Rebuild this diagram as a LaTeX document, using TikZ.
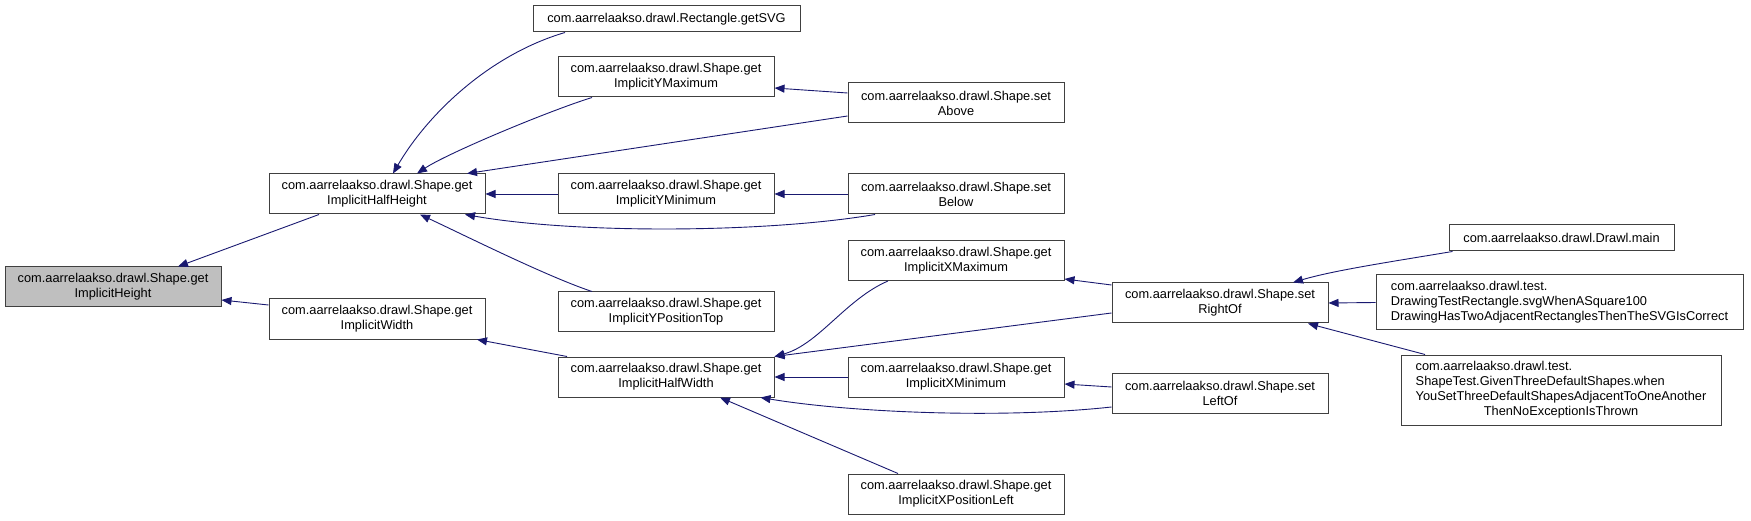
\documentclass[tikz,border=0pt]{standalone}
\usepackage{fontspec}
\setmainfont{Liberation Sans}
\usetikzlibrary{arrows.meta}
\definecolor{edgeblue}{HTML}{191970}
\definecolor{nodegray}{HTML}{BFBFBF}
\definecolor{boxline}{HTML}{404040}
\begin{document}
\begin{tikzpicture}[x=1pt,y=-1pt,
  fn/.style={draw=boxline, line width=1pt, inner sep=0pt, align=center, fill=white,
    font=\fontsize{12.8}{15}\selectfont},
  two/.style={fn, minimum width=216pt, minimum height=40pt},
  edge/.style={draw=edgeblue, line width=0.9pt, -{Triangle[length=10pt,width=8pt]}}]
\useasboundingbox (0,0) rectangle (1751,521);
% nodes
\node[two, fill=nodegray] (ih) at (113,287) {com.aarrelaakso.drawl.Shape.get\\ImplicitHeight};
\node[two] (hh) at (377,194) {com.aarrelaakso.drawl.Shape.get\\ImplicitHalfHeight};
\node[two] (iw) at (377,319) {com.aarrelaakso.drawl.Shape.get\\ImplicitWidth};
\node[fn, minimum width=267pt, minimum height=26pt] (svg) at (666.5,19) {com.aarrelaakso.drawl.Rectangle.getSVG};
\node[two] (ymax) at (666,77) {com.aarrelaakso.drawl.Shape.get\\ImplicitYMaximum};
\node[two] (ymin) at (666,194) {com.aarrelaakso.drawl.Shape.get\\ImplicitYMinimum};
\node[two] (ytop) at (666,312) {com.aarrelaakso.drawl.Shape.get\\ImplicitYPositionTop};
\node[two] (hw) at (666,377) {com.aarrelaakso.drawl.Shape.get\\ImplicitHalfWidth};
\node[two] (above) at (956,103) {com.aarrelaakso.drawl.Shape.set\\Above};
\node[two] (below) at (956,194) {com.aarrelaakso.drawl.Shape.set\\Below};
\node[two] (xmax) at (956,260.5) {com.aarrelaakso.drawl.Shape.get\\ImplicitXMaximum};
\node[two] (xmin) at (956,377) {com.aarrelaakso.drawl.Shape.get\\ImplicitXMinimum};
\node[two] (xleft) at (956,494) {com.aarrelaakso.drawl.Shape.get\\ImplicitXPositionLeft};
\node[two] (right) at (1220,303) {com.aarrelaakso.drawl.Shape.set\\RightOf};
\node[two] (left) at (1220,393) {com.aarrelaakso.drawl.Shape.set\\LeftOf};
\node[fn, minimum width=225pt, minimum height=26pt] (main) at (1561.5,238) {com.aarrelaakso.drawl.Drawl.main};
\node[fn, minimum width=367pt, minimum height=55pt, align=left] (dtr) at (1559.5,302.5)
  {com.aarrelaakso.drawl.test.\\DrawingTestRectangle.svgWhenASquare100\\DrawingHasTwoAdjacentRectanglesThenTheSVGIsCorrect};
\node[fn, minimum width=320pt, minimum height=70pt] (st) at (1561,390)
  {\begin{tabular}{@{}l@{}}com.aarrelaakso.drawl.test.\\ShapeTest.GivenThreeDefaultShapes.when\\YouSetThreeDefaultShapesAdjacentToOneAnother\\\multicolumn{1}{@{}c@{}}{ThenNoExceptionIsThrown}\end{tabular}};
% edges
\draw[edge] ([xshift=-58pt]hh.south) -- ([xshift=65pt]ih.north);
\draw[edge] ([yshift=14pt]iw.west) -- ([yshift=-13pt]ih.east);
\draw[edge] ([xshift=-101.5pt]svg.south) .. controls +(-75,22) and +(35,-60) .. ([xshift=16pt]hh.north);
\draw[edge] ([xshift=-74pt]ymax.south) .. controls +(-45,14) and +(30,-20) .. ([xshift=40pt]hh.north);
\draw[edge] ([yshift=-13pt]above.west) -- ([xshift=90pt]hh.north);
\draw[edge] (ymin.west) -- (hh.east);
\draw[edge] ([xshift=-81pt]below.south) .. controls +(-105,18) and +(115,20) .. ([xshift=88pt]hh.south);
\draw[edge] ([xshift=-74pt]ytop.north) .. controls +(-45,-15) and +(45,21) .. ([xshift=43pt]hh.south);
\draw[edge] ([xshift=-99pt]hw.north) -- ([xshift=100pt]iw.south);
\draw[edge] ([xshift=-68pt]xmax.south) .. controls +(-42,18) and +(44,-12) .. (hw.north east);
\draw[edge] ([yshift=-10pt]right.west) -- (hw.north east);
\draw[edge] (xmin.west) -- (hw.east);
\draw[edge] ([yshift=-14pt]left.west) .. controls +(-110,12) and +(90,15) .. ([xshift=-14pt]hw.south east);
\draw[edge] ([xshift=-58pt]xleft.north) -- ([xshift=54pt]hw.south);
\draw[edge] ([yshift=10pt]above.west) -- ([yshift=-11pt]ymax.east);
\draw[edge] (below.west) -- (ymin.east);
\draw[edge] ([yshift=18pt]right.west) -- ([yshift=-18.5pt]xmax.east);
\draw[edge] ([yshift=6pt]left.west) -- ([yshift=-7pt]xmin.east);
\draw[edge] ([xshift=4pt]main.south west) .. controls +(-60,10) and +(40,-12) .. ([xshift=73pt]right.north);
\draw[edge] (dtr.west) -- (right.east);
\draw[edge] ([xshift=-136pt]st.north) -- ([xshift=88pt]right.south);
\end{tikzpicture}
\end{document}
